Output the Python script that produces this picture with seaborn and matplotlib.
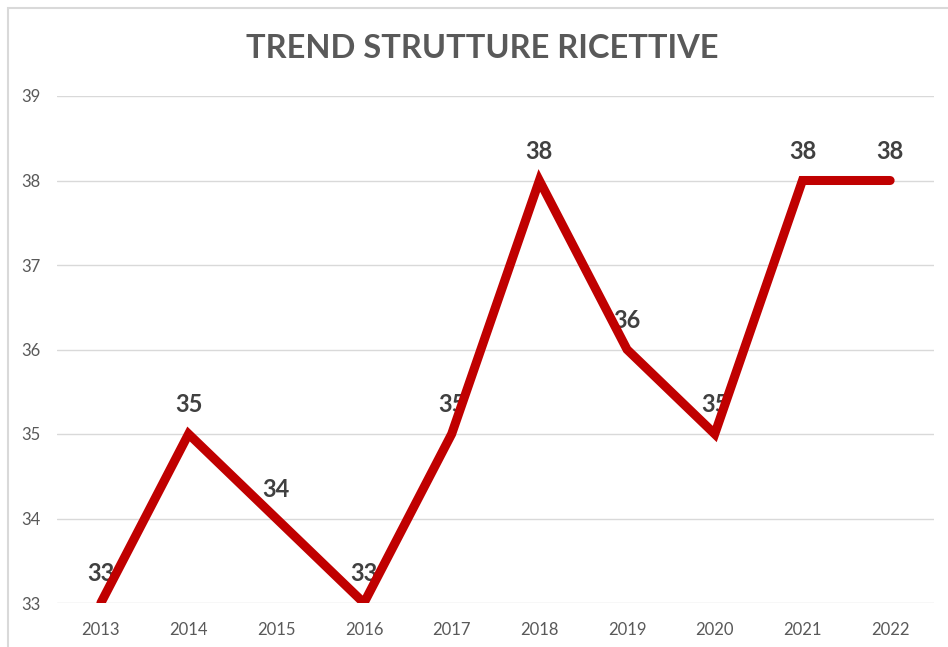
import matplotlib
matplotlib.use("Agg")
import matplotlib.pyplot as plt
import seaborn as sns
import pandas as pd
from matplotlib.patches import Rectangle

years = ["2013", "2014", "2015", "2016", "2017", "2018", "2019", "2020", "2021", "2022"]
values = [33, 35, 34, 33, 35, 38, 36, 35, 38, 38]
yticks = [33, 34, 35, 36, 37, 38, 39]

df = pd.DataFrame({"anno": years, "strutture": values})

sns.set_style("white")
plt.rcParams['font.family'] = ['Lato', 'DejaVu Sans']

fig = plt.figure(figsize=(9.48, 6.47), dpi=100)
ax = fig.add_axes([57 / 948, 1 - 603 / 647, (934 - 57) / 948, (603 - 96) / 647])

# thin grey frame round the picture
fig.patches.append(Rectangle((8 / 948, -0.1), 1.2, 1 - 8 / 647 + 0.1, transform=fig.transFigure,
                             fill=False, edgecolor="#d9d9d9", linewidth=1.5))

sns.lineplot(data=df, x="anno", y="strutture", ax=ax, color="#c00000", linewidth=6.5,
             sort=False, zorder=3)
ax.lines[0].set_solid_capstyle("round")
ax.lines[0].set_solid_joinstyle("miter")

for i, v in enumerate(values):
    ax.annotate(str(v), (i, v), xytext=(0, 21), textcoords="offset points",
                ha="center", va="center", fontsize=17, fontweight="bold",
                color="#404040", zorder=2, annotation_clip=False)

ax.set_ylim(33, 39)
ax.set_xlim(-0.5, len(years) - 0.5)
ax.set_yticks(yticks)
ax.grid(axis="y", color="#d9d9d9", linewidth=1)
ax.set_axisbelow(True)
for s in ax.spines.values():
    s.set_visible(False)
ax.tick_params(axis="both", length=0, labelsize=12, labelcolor="#595959")
ax.tick_params(axis="x", pad=14)
ax.tick_params(axis="y", pad=12)
ax.set_xlabel("")
ax.set_ylabel("")

fig.text(482 / 948, 1 - 48 / 647, "TREND STRUTTURE RICETTIVE", ha="center", va="center",
         fontsize=23.5, fontweight="bold", color="#595959")

fig.savefig("out.png", dpi=100, facecolor="white")
